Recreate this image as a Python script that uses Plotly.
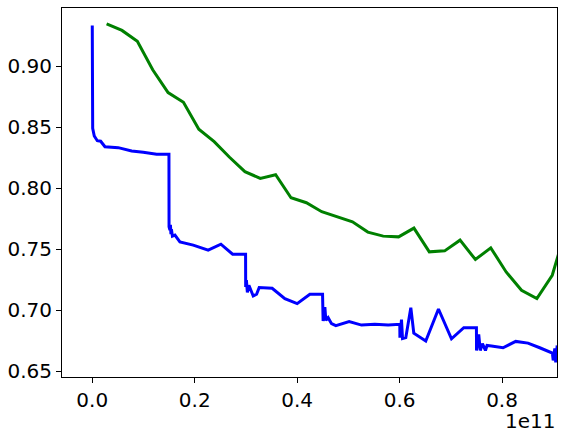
import plotly.graph_objects as go

# x values are in units of 1e11 (the axis shows the "1e11" offset like matplotlib)
BLUE_X = [
    0.0, 0.0005, 0.0008, 0.0039, 0.0098, 0.0164, 0.0203, 0.0248, 0.0507, 0.0769,
    0.0995, 0.1257, 0.1497,
    0.1499, 0.1516, 0.1526, 0.1536, 0.1545, 0.1565, 0.1614, 0.1711, 0.1971, 0.2263,
    0.2511, 0.2740, 0.2993,
    0.2995, 0.3009, 0.3028, 0.3058, 0.3142, 0.3208, 0.3259, 0.3512, 0.3760, 0.4000,
    0.4248, 0.4496,
    0.4507, 0.4541, 0.4560, 0.4605, 0.4671, 0.4755, 0.5015, 0.5257, 0.5516, 0.5776,
    0.6004,
    0.6006, 0.6037, 0.6057, 0.6121, 0.6219, 0.6277, 0.6511, 0.6759, 0.7013, 0.7253,
    0.7500,
    0.7502, 0.7545, 0.7575, 0.7617, 0.7676, 0.7707, 0.7793, 0.8020, 0.8267, 0.8507,
    0.8736, 0.8983,
    0.8999, 0.9030, 0.9048, 0.9077,
]
BLUE_Y = [
    0.9337, 0.8600, 0.8493, 0.8430, 0.8391, 0.8387, 0.8370, 0.8342, 0.8334, 0.8307,
    0.8296, 0.8280, 0.8280,
    0.7684, 0.7657, 0.7700, 0.7624, 0.7665, 0.7608, 0.7616, 0.7561, 0.7534, 0.7493,
    0.7542, 0.7460, 0.7460,
    0.7191, 0.7246, 0.7147, 0.7205, 0.7117, 0.7131, 0.7186, 0.7180, 0.7095, 0.7054,
    0.7131, 0.7131,
    0.6911, 0.7026, 0.6917, 0.6939, 0.6890, 0.6873, 0.6906, 0.6878, 0.6884, 0.6878,
    0.6884,
    0.6775, 0.6923, 0.6767, 0.6775, 0.7021, 0.6812, 0.6747, 0.7010, 0.6766, 0.6857,
    0.6857,
    0.6670, 0.6802, 0.6670, 0.6725, 0.6670, 0.6711, 0.6706, 0.6692, 0.6744, 0.6730,
    0.6692, 0.6648,
    0.6588, 0.6687, 0.6572, 0.6711,
]

GREEN_X = [
    0.028, 0.058, 0.088, 0.118, 0.148, 0.178, 0.208, 0.238, 0.268, 0.298,
    0.328, 0.358, 0.388, 0.418, 0.448, 0.478, 0.508, 0.538, 0.568, 0.598,
    0.628, 0.658, 0.688, 0.718, 0.748, 0.778, 0.808, 0.838, 0.868, 0.898,
    0.928,
]
GREEN_Y = [
    0.9350, 0.9296, 0.9206, 0.8973, 0.8786, 0.8707, 0.8485, 0.8383, 0.8255, 0.8137,
    0.8082, 0.8112, 0.7923, 0.7882, 0.7808, 0.7766, 0.7725, 0.7641, 0.7608, 0.7602,
    0.7674, 0.7479, 0.7487, 0.7575, 0.7416, 0.7512, 0.7314, 0.7164, 0.7095, 0.7287,
    0.7710,
]

X_TICKS = [0.0, 0.2, 0.4, 0.6, 0.8]
Y_TICKS = [0.65, 0.70, 0.75, 0.80, 0.85, 0.90]

FONT = dict(family="DejaVu Sans", size=20, color="black")

fig = go.Figure()
fig.add_trace(go.Scatter(
    x=BLUE_X, y=BLUE_Y, mode="lines",
    line=dict(color="#0000ff", width=3),
    showlegend=False,
))
fig.add_trace(go.Scatter(
    x=GREEN_X, y=GREEN_Y, mode="lines",
    line=dict(color="#008000", width=3),
    showlegend=False,
))

axis_common = dict(
    showgrid=False, zeroline=False, automargin=False,
    showline=True, linecolor="black", linewidth=1, mirror=True,
    ticks="outside", ticklen=5, tickwidth=1, tickcolor="black",
    tickfont=FONT,
)

fig.update_layout(
    width=565, height=436,
    paper_bgcolor="white", plot_bgcolor="white",
    margin=dict(l=62, r=8, t=8, b=59),
    font=FONT,
    hovermode=False,
    xaxis=dict(range=[-0.0591, 0.9073], tickvals=X_TICKS,
               ticktext=[f"{v:.1f}" for v in X_TICKS], **axis_common),
    yaxis=dict(range=[0.6452, 0.948], tickvals=Y_TICKS,
               ticktext=[f"{v:.2f}" for v in Y_TICKS], **axis_common),
)

# matplotlib-style offset text
fig.add_annotation(
    text="1e11", x=1.0, y=-0.12, xref="paper", yref="paper",
    xanchor="right", yanchor="middle", showarrow=False, font=FONT,
)

# drop the default 8px body margin so the figure fills the window
fig.write_html(
    "out.html",
    config={"displayModeBar": False},
    post_script="document.body.style.margin='0';",
)
